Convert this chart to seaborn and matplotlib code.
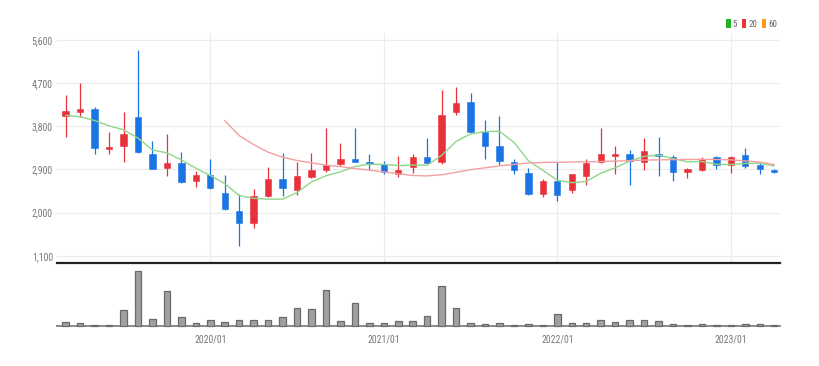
import numpy as np
import pandas as pd
import matplotlib
matplotlib.use("Agg")
import matplotlib.pyplot as plt
import seaborn as sns
from matplotlib.patches import Patch
from matplotlib.ticker import FuncFormatter

# ---------------- data (monthly candles 2019/03 .. 2023/04) ----------------
months = pd.period_range("2019-03", "2023-04", freq="M").strftime("%Y/%m").tolist()

open_ = [4022, 4091, 4153, 3336, 3385, 3994, 3232, 2921, 3025, 2658,
         2789, 2409, 2042, 1778, 2353, 2699, 2471, 2748, 2879, 3005,
         3115, 3059, 3012, 2796, 2941, 3157, 3052, 4091, 4305, 3675,
         3391, 3059, 2831, 2381, 2651, 2464, 2762, 3059, 3177, 3232,
         3059, 3218, 3163, 2838, 2887, 3150, 2998, 3198, 2983, 2887]
high = [4444, 4700, 4208, 3675, 4105, 5392, 3489, 3648, 3267, 2873,
        3115, 2783, 2381, 2485, 2949, 3246, 3059, 3246, 3772, 3455,
        3772, 3212, 3081, 3185, 3212, 3565, 4562, 4610, 4492, 3938,
        4015, 3108, 2935, 2693, 3059, 2810, 3108, 3773, 3385, 3302,
        3552, 3579, 3205, 2922, 3163, 3177, 3177, 3350, 3038, 2900]
low = [3572, 3994, 3232, 3232, 3059, 3240, 2900, 2762, 2623, 2527,
       2485, 2055, 1294, 1682, 2319, 2346, 2375, 2713, 2850, 2970,
       3059, 2894, 2804, 2748, 2817, 3038, 3024, 4036, 3661, 3121,
       2991, 2804, 2368, 2333, 2236, 2402, 2575, 3038, 2810, 2575,
       2887, 2762, 2658, 2720, 2866, 2914, 2830, 2935, 2804, 2830]
close = [4119, 4153, 3350, 3364, 3648, 3260, 2914, 3038, 2637, 2782,
         2506, 2069, 1778, 2353, 2699, 2506, 2762, 2880, 2998, 3108,
         3060, 3012, 2839, 2893, 3157, 3045, 4042, 4292, 3675, 3398,
         3073, 2894, 2381, 2658, 2375, 2810, 3038, 3219, 3232, 3081,
         3289, 3184, 2838, 2908, 3115, 2998, 3150, 2963, 2908, 2845]
ma5 = [4030, 4000, 3920, 3810, 3727, 3555, 3307, 3245, 3099, 2926,
       2775, 2606, 2354, 2298, 2281, 2281, 2420, 2640, 2769, 2851,
       2961, 3011, 3003, 2982, 2992, 2988, 3194, 3484, 3641, 3689,
       3696, 3466, 3084, 2881, 2676, 2624, 2652, 2820, 2935, 3076,
       3172, 3201, 3125, 3060, 3067, 3009, 3002, 3027, 3027, 2973]
ma20 = [np.nan] * 11 + [
       3918, 3606, 3419, 3260, 3156, 3087, 3038, 2990, 2960,
       2920, 2887, 2850, 2810, 2775, 2765, 2790, 2840, 2895, 2935,
       2975, 3005, 3035, 3045, 3050, 3055, 3060, 3065, 3075, 3085,
       3095, 3100, 3105, 3110, 3110, 3108, 3100, 3080, 3055, 3000]
volume = [430, 300, 100, 100, 1570, 5400, 730, 3400, 930, 270,
          600, 400, 600, 600, 600, 870, 1800, 1630, 3570, 470,
          2230, 300, 300, 470, 470, 970, 3900, 1800, 300, 230,
          300, 100, 230, 100, 1130, 300, 300, 570, 400, 570,
          570, 470, 230, 100, 230, 100, 50, 230, 230, 100]
y_ticks = [1100, 2000, 2900, 3800, 4700, 5600]
x_tick_labels = ["2020/01", "2021/01", "2022/01", "2023/01"]

# ---------------- styling ----------------
UP = "#e8313a"
DOWN = "#1b74e4"
sns.set_theme(style="white")
plt.rcParams["font.family"] = ["Liberation Sans Narrow", "Roboto Condensed", "DejaVu Sans"]

df = pd.DataFrame({"month": months, "open": open_, "high": high, "low": low,
                   "close": close, "ma5": ma5, "ma20": ma20, "volume": volume})
df["i"] = np.arange(len(df))
df["up"] = df["close"] >= df["open"]
df["color"] = np.where(df["up"], UP, DOWN)

fig = plt.figure(figsize=(8.2, 3.66), dpi=100)
ax = fig.add_axes([57 / 820, 1 - 263 / 366, 723 / 820, 230 / 366])
axv = fig.add_axes([57 / 820, 1 - 326 / 366, 723 / 820, 60 / 366])

xlim = (-0.6, len(df) - 0.6)

# ----- price panel -----
ax.vlines(df["i"], df["low"], df["high"], colors=df["color"], linewidth=0.9, zorder=3)
body_bottom = np.minimum(df["open"], df["close"])
body_h = np.maximum(np.abs(df["close"] - df["open"]), 12)
ax.bar(df["i"], body_h, bottom=body_bottom, width=0.44, color=df["color"],
       edgecolor=df["color"], linewidth=0.4, zorder=4)
sns.lineplot(data=df, x="i", y="ma5", ax=ax, color="#8fd68a", linewidth=1.0, zorder=5)
sns.lineplot(data=df, x="i", y="ma20", ax=ax, color="#f4a0a0", linewidth=1.0, zorder=5)

ax.set_xlim(*xlim)
ax.set_ylim(950, 5745)
ax.set_yticks(y_ticks)
ax.yaxis.set_major_formatter(FuncFormatter(lambda v, p: f"{int(v):,}"))
year_pos = [months.index(m) for m in x_tick_labels]
ax.set_xticks(year_pos)
ax.set_xticklabels([])
ax.grid(True, color="#ececec", linewidth=0.8)
ax.tick_params(axis="y", length=0, labelsize=7, labelcolor="#777777", pad=3)
ax.tick_params(axis="x", length=0)
ax.set_xlabel("")
ax.set_ylabel("")
for s in ["top", "left", "right"]:
    ax.spines[s].set_visible(False)
ax.spines["bottom"].set_color("#222222")
ax.spines["bottom"].set_linewidth(1.6)

# ----- volume panel -----
sns.barplot(data=df, x="i", y="volume", ax=axv, native_scale=True, width=0.45,
            color="#a0a0a0", edgecolor="#6a6a6a", linewidth=0.9, saturation=1)
for p in axv.patches:
    p.set_zorder(4)
    p.set_clip_on(False)
axv.set_xlim(*xlim)
axv.set_ylim(0, 5400 * 60 / 55)
axv.set_yticks([])
axv.set_xticks(year_pos)
axv.set_xticklabels(x_tick_labels)
axv.tick_params(axis="x", length=3, width=0.8, color="#555555", labelsize=7,
                labelcolor="#777777", pad=3, direction="out")
axv.set_xlabel("")
axv.set_ylabel("")
axv.grid(False)
for s in ["top", "left", "right"]:
    axv.spines[s].set_visible(False)
axv.spines["bottom"].set_color("#8a8a8a")
axv.spines["bottom"].set_linewidth(1.4)
axv.spines["bottom"].set_zorder(2)

# ----- legend -----
handles = [Patch(facecolor="#22b322", edgecolor="none", label="5"),
           Patch(facecolor="#ee3333", edgecolor="none", label="20"),
           Patch(facecolor="#ff9a1a", edgecolor="none", label="60")]
fig.legend(handles=handles, loc="center right", bbox_to_anchor=(782 / 820, 1 - 24 / 366),
           ncol=3, frameon=False, fontsize=6.5, handlelength=0.5, handleheight=1.0,
           handletextpad=0.25, columnspacing=0.5, borderpad=0, labelcolor="#666666")

fig.savefig("out.png", dpi=100)
